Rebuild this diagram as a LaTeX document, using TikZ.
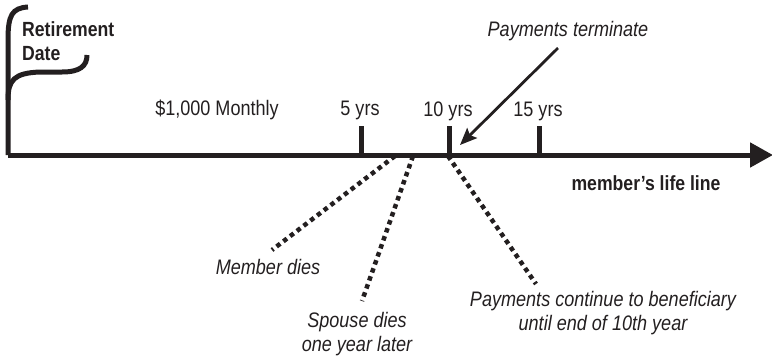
\documentclass[tikz,border=0pt]{standalone}
\usepackage{fontspec}
\setmainfont{Liberation Sans}[FakeStretch=0.86]
\usetikzlibrary{arrows.meta}
\definecolor{ink}{HTML}{231F20}
\begin{document}
\begin{tikzpicture}[x=1pt,y=-1pt,
  every node/.style={text=ink,inner sep=0pt,font=\fontsize{21}{24}\selectfont},
  lab/.style={align=center},
  itl/.style={align=center,font=\fontsize{21}{24.5}\selectfont\itshape},
  bld/.style={align=left,font=\fontsize{20.5}{23.5}\selectfont\bfseries},
  thick line/.style={line width=5pt,draw=ink},
  tick/.style={line width=5pt,draw=ink},
  dots/.style={line width=4.5pt,draw=ink,dash pattern=on 4.5pt off 4pt},
  pointer/.style={line width=2.8pt,draw=ink,-{Stealth[length=17pt,width=14pt,inset=3pt]}}]
\useasboundingbox (0,0) rectangle (772,357);
% main life line
\coordinate (origin) at (8,155);
\coordinate (tip) at (773,155);
\draw[thick line,-{Triangle[length=23pt,width=24pt]}] (origin) -- (tip);
% retirement bracket
\draw[thick line,line cap=butt] (origin) -- (8,40) .. controls (8,15) and (12,8) .. (28,7);
\draw[thick line] (8,100) .. controls (8,80) and (14,73) .. (40,72) -- (62,72) .. controls (80,72) and (87,66) .. (87,55);
\node[bld] (ret) at (22,41) [anchor=west] {Retirement\\Date};
% ticks
\coordinate (t5) at (361,155);
\coordinate (t10) at (449,155);
\coordinate (t15) at (539,155);
\draw[tick] (t5) -- ++(0,-29);
\draw[tick] (t10) -- ++(0,-29);
\draw[tick] (t15) -- ++(0,-29);
\node[lab] (l5) at (360,110) {5 yrs};
\node[lab] (l10) at (448,111) {10 yrs};
\node[lab] (l15) at (538,111) {15 yrs};
\node[lab] (monthly) at (217,110) {\$1,000 Monthly};
% payments terminate
\node[itl] (term) at (568,31) {Payments terminate};
\coordinate (termstart) at (558,48);
\coordinate (termend) at (460,145);
\draw[pointer] (termstart) -- (termend);
% life line label
\node[bld] (life) at (646,183) {member’s life line};
% dotted lines
\coordinate (m0) at (395,156);
\coordinate (m1) at (272,250);
\coordinate (s0) at (413,156);
\coordinate (s1) at (362,301);
\coordinate (p0) at (448,156);
\coordinate (p1) at (536,284);
\draw[dots] (m0) -- (m1);
\draw[dots] (s0) -- (s1);
\draw[dots] (p0) -- (p1);
\node[itl] (member) at (268,267) {Member dies};
\node[itl] (spouse) at (357,334) {Spouse dies\\one year later};
\node[itl] (cont) at (603,313) {Payments continue to beneficiary\\until end of 10th year};
\end{tikzpicture}
\end{document}
